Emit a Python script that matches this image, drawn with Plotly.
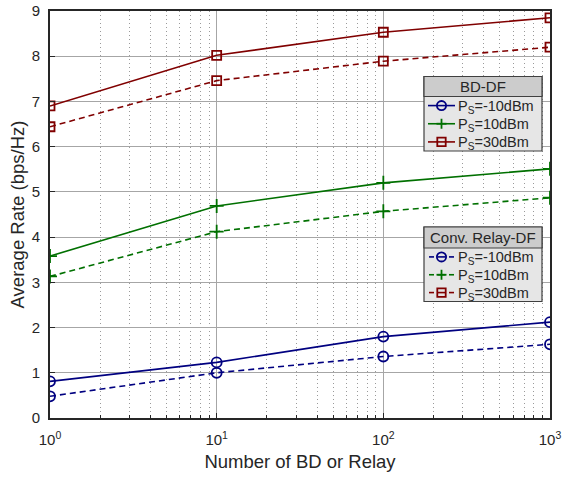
import plotly.graph_objects as go

# Number of backscatter devices (BD) or relays
n_nodes = [1, 10, 100, 1000]

# Average rate (bps/Hz), BD-DF scheme
bd_m10 = [0.81, 1.23, 1.80, 2.12]
bd_10 = [3.58, 4.69, 5.20, 5.51]
bd_30 = [6.90, 8.02, 8.53, 8.85]

# Average rate (bps/Hz), conventional relay DF scheme
cv_m10 = [0.48, 1.00, 1.36, 1.63]
cv_10 = [3.13, 4.12, 4.57, 4.87]
cv_30 = [6.44, 7.46, 7.89, 8.20]

power_labels = ["P<sub>S</sub>=-10dBm", "P<sub>S</sub>=10dBm", "P<sub>S</sub>=30dBm"]
x_tickvals = [1, 10, 100, 1000]
x_ticktext = ["10<sup>0</sup>", "10<sup>1</sup>", "10<sup>2</sup>", "10<sup>3</sup>"]
minor_vals = [m * d for d in (1, 10, 100) for m in range(2, 10)]

NAVY, GREEN, MAROON = "#000080", "#007000", "#800000"
FONT = "Liberation Sans, Arial, sans-serif"
TXT = "#262626"

# Plot-area geometry in pixels (used to place the legend panels)
W, H = 573, 477
ML, MR, MT, MB = 50, 23, 11, 59
PW, PH = W - ML - MR, H - MT - MB


def px_x(p):
    return (p - ML) / PW


def px_y(p):
    return (H - MB - p) / PH


fig = go.Figure()

series = [
    (bd_m10, NAVY, "circle-open", "solid", power_labels[0]),
    (bd_10, GREEN, "cross-thin-open", "solid", power_labels[1]),
    (bd_30, MAROON, "square-open", "solid", power_labels[2]),
    (cv_m10, NAVY, "circle-open", "6px,4px", power_labels[0]),
    (cv_10, GREEN, "cross-thin-open", "6px,4px", power_labels[1]),
    (cv_30, MAROON, "square-open", "6px,4px", power_labels[2]),
]
for ys, col, sym, dash, name in series:
    fig.add_trace(go.Scatter(
        x=n_nodes, y=ys, mode="lines+markers", name=name, showlegend=False,
        line=dict(color=col, width=1.6, dash=dash),
        marker=dict(symbol=sym, size=10 if sym != "square-open" else 9,
                    color=col, line=dict(color=col, width=1.8)),
    ))

shapes, annotations = [], []


def rect(x0, x1, y0, y1, fill, lc="#404040", lw=1.2):
    shapes.append(dict(type="rect", xref="paper", yref="paper",
                       x0=px_x(x0), x1=px_x(x1), y0=px_y(y1), y1=px_y(y0),
                       fillcolor=fill, line=dict(color=lc, width=lw), layer="above"))


def seg(x0, x1, y0, y1, col, lw=1.6):
    shapes.append(dict(type="line", xref="paper", yref="paper",
                       x0=px_x(x0), x1=px_x(x1), y0=px_y(y0), y1=px_y(y1),
                       line=dict(color=col, width=lw), layer="above"))


def legend_symbol(kind, cx, cy, col):
    r = 4.6
    if kind == "circle":
        shapes.append(dict(type="circle", xref="paper", yref="paper",
                           x0=px_x(cx - r), x1=px_x(cx + r), y0=px_y(cy + r), y1=px_y(cy - r),
                           line=dict(color=col, width=1.8), layer="above"))
    elif kind == "square":
        shapes.append(dict(type="rect", xref="paper", yref="paper",
                           x0=px_x(cx - 4.2), x1=px_x(cx + 4.2), y0=px_y(cy + 4.2), y1=px_y(cy - 4.2),
                           line=dict(color=col, width=1.8), layer="above"))
    else:
        seg(cx, cx, cy - 5, cy + 5, col, 1.8)
        seg(cx - 5, cx + 5, cy, cy, col, 1.8)


def legend_panel(title, x0, x1, y_top, y_band, y_bot, dashed):
    rect(x0, x1, y_top, y_bot, "#e6e6e6")
    rect(x0, x1, y_top, y_band, "#cccccc")
    annotations.append(dict(text=title, xref="paper", yref="paper",
                            x=px_x((x0 + x1) / 2), y=px_y((y_top + y_band) / 2),
                            xanchor="center", yanchor="middle", showarrow=False,
                            font=dict(family=FONT, size=15, color=TXT)))
    step = (y_bot - y_band) / 3
    entries = [(NAVY, "circle"), (GREEN, "plus"), (MAROON, "square")]
    for i, ((col, kind), label) in enumerate(zip(entries, power_labels)):
        cy = y_band + step * (i + 0.5)
        cx = x0 + 17.5
        if dashed:
            seg(x0 + 5, x0 + 10, cy, cy, col)
            seg(cx - 4, cx + 4, cy, cy, col)
            seg(x0 + 25, x0 + 30, cy, cy, col)
        else:
            seg(x0 + 4, x0 + 31, cy, cy, col)
        legend_symbol(kind, cx, cy, col)
        annotations.append(dict(text=label, xref="paper", yref="paper",
                                x=px_x(x0 + 32), y=px_y(cy + 1.5), xanchor="left", yanchor="middle",
                                showarrow=False, font=dict(family=FONT, size=14.5, color=TXT)))


legend_panel("BD-DF", 424, 542, 76.5, 96.5, 151, dashed=False)
legend_panel("Conv. Relay-DF", 424, 542, 227, 248, 301.5, dashed=True)

fig.update_xaxes(
    type="log", range=[0, 3], tickvals=x_tickvals, ticktext=x_ticktext,
    showline=True, linecolor=TXT, linewidth=2, mirror=True,
    showgrid=True, gridcolor="#a6a6a6", gridwidth=1.2,
    ticks="inside", ticklen=5, tickcolor=TXT, ticklabelstandoff=7,
    minor=dict(tickvals=minor_vals, showgrid=True, gridcolor="#9a9a9a", griddash="1px,3px", gridwidth=1,
               ticks="inside", ticklen=3, tickcolor=TXT),
    tickfont=dict(family=FONT, size=15, color=TXT),
    title=dict(text="Number of BD or Relay", font=dict(family=FONT, size=18.5, color=TXT), standoff=8),
    zeroline=False, automargin=False,
)
fig.update_yaxes(
    range=[0, 9], dtick=1, tick0=0,
    showline=True, linecolor=TXT, linewidth=2, mirror=True,
    showgrid=True, gridcolor="#a6a6a6", gridwidth=1.2,
    ticks="inside", ticklen=5, tickcolor=TXT, ticklabelstandoff=5,
    tickfont=dict(family=FONT, size=15, color=TXT),
    title=dict(text="Average Rate (bps/Hz)", font=dict(family=FONT, size=18.5, color=TXT), standoff=2),
    zeroline=False, automargin=False,
)

fig.update_layout(
    width=W, height=H,
    margin=dict(l=ML, r=MR, t=MT, b=MB),
    paper_bgcolor="white", plot_bgcolor="white",
    font=dict(family=FONT, color=TXT),
    showlegend=False,
    shapes=shapes, annotations=annotations,
)

fig.write_html("out.html")
